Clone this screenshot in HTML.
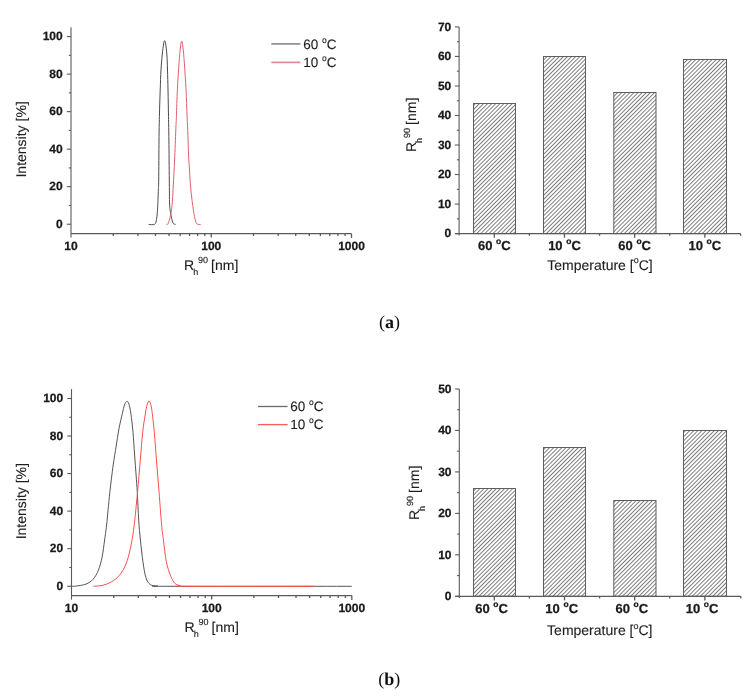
<!DOCTYPE html>
<html><head><meta charset="utf-8"><title>Figure</title>
<style>
html,body{margin:0;padding:0;background:#fff;width:754px;height:699px;overflow:hidden}
svg{display:block;text-rendering:geometricPrecision}
text{font-family:"Liberation Sans",Arial,sans-serif}
.ax{stroke:#5a5a5a;stroke-width:1.1}
.xa{stroke:#5a5a5a;stroke-width:1.3}
.tk{font-size:12px;font-weight:bold;fill:#1a1a1a;stroke:#1a1a1a;stroke-width:0.25px}
.bl{font-size:13px;font-weight:bold;fill:#1a1a1a;stroke:#1a1a1a;stroke-width:0.25px}
.tt{font-size:14px;fill:#1e1e1e;stroke:#1e1e1e;stroke-width:0.12px}
.lg{font-size:13.5px;fill:#1e1e1e;stroke:#1e1e1e;stroke-width:0.12px}
.sm{font-size:9px}
.dg{font-size:8.5px}
.dg2{font-size:9px}
.cv{fill:none;stroke-width:1}
.bar{fill:url(#hatch);stroke:#5e5e5e;stroke-width:1}
.cap{font-family:"Liberation Serif","Times New Roman",serif;font-size:18px;fill:#111}
</style>
</head><body>
<svg width="754" height="699" viewBox="0 0 754 699">
<defs><pattern id="hatch" patternUnits="userSpaceOnUse" width="2.9" height="20" patternTransform="rotate(45)"><rect x="0" y="0" width="0.75" height="20" fill="#555555"/></pattern></defs>
<rect width="754" height="699" fill="#ffffff"/>
<line class="ax" x1="71.00" y1="27.20" x2="71.00" y2="237.60"/>
<line class="xa" x1="71.00" y1="233.60" x2="351.50" y2="233.60"/>
<line class="xa" x1="351.50" y1="233.60" x2="351.50" y2="237.90"/>
<line class="xa" x1="211.25" y1="233.60" x2="211.25" y2="237.60"/>
<line class="xa" x1="113.22" y1="233.60" x2="113.22" y2="236.00" stroke-width="1.00"/>
<line class="xa" x1="137.92" y1="233.60" x2="137.92" y2="236.00" stroke-width="1.00"/>
<line class="xa" x1="155.44" y1="233.60" x2="155.44" y2="236.00" stroke-width="1.00"/>
<line class="xa" x1="169.03" y1="233.60" x2="169.03" y2="236.00" stroke-width="1.00"/>
<line class="xa" x1="180.14" y1="233.60" x2="180.14" y2="236.00" stroke-width="1.00"/>
<line class="xa" x1="189.53" y1="233.60" x2="189.53" y2="236.00" stroke-width="1.00"/>
<line class="xa" x1="197.66" y1="233.60" x2="197.66" y2="236.00" stroke-width="1.00"/>
<line class="xa" x1="204.83" y1="233.60" x2="204.83" y2="236.00" stroke-width="1.00"/>
<line class="xa" x1="253.47" y1="233.60" x2="253.47" y2="236.00" stroke-width="1.00"/>
<line class="xa" x1="278.17" y1="233.60" x2="278.17" y2="236.00" stroke-width="1.00"/>
<line class="xa" x1="295.69" y1="233.60" x2="295.69" y2="236.00" stroke-width="1.00"/>
<line class="xa" x1="309.28" y1="233.60" x2="309.28" y2="236.00" stroke-width="1.00"/>
<line class="xa" x1="320.39" y1="233.60" x2="320.39" y2="236.00" stroke-width="1.00"/>
<line class="xa" x1="329.78" y1="233.60" x2="329.78" y2="236.00" stroke-width="1.00"/>
<line class="xa" x1="337.91" y1="233.60" x2="337.91" y2="236.00" stroke-width="1.00"/>
<line class="xa" x1="345.08" y1="233.60" x2="345.08" y2="236.00" stroke-width="1.00"/>
<line class="ax" x1="66.80" y1="224.22" x2="71.00" y2="224.22"/>
<text class="tk" x="62.70" y="227.92" text-anchor="end">0</text>
<line class="ax" x1="68.80" y1="205.45" x2="71.00" y2="205.45" stroke-width="1.00"/>
<line class="ax" x1="66.80" y1="186.69" x2="71.00" y2="186.69"/>
<text class="tk" x="62.70" y="190.39" text-anchor="end">20</text>
<line class="ax" x1="68.80" y1="167.93" x2="71.00" y2="167.93" stroke-width="1.00"/>
<line class="ax" x1="66.80" y1="149.16" x2="71.00" y2="149.16"/>
<text class="tk" x="62.70" y="152.86" text-anchor="end">40</text>
<line class="ax" x1="68.80" y1="130.40" x2="71.00" y2="130.40" stroke-width="1.00"/>
<line class="ax" x1="66.80" y1="111.64" x2="71.00" y2="111.64"/>
<text class="tk" x="62.70" y="115.34" text-anchor="end">60</text>
<line class="ax" x1="68.80" y1="92.87" x2="71.00" y2="92.87" stroke-width="1.00"/>
<line class="ax" x1="66.80" y1="74.11" x2="71.00" y2="74.11"/>
<text class="tk" x="62.70" y="77.81" text-anchor="end">80</text>
<line class="ax" x1="68.80" y1="55.35" x2="71.00" y2="55.35" stroke-width="1.00"/>
<line class="ax" x1="66.80" y1="36.58" x2="71.00" y2="36.58"/>
<text class="tk" x="62.70" y="40.28" text-anchor="end">100</text>
<text class="tk" x="71.00" y="250.00" text-anchor="middle">10</text>
<text class="tk" x="211.25" y="250.00" text-anchor="middle">100</text>
<text class="tk" x="351.50" y="250.00" text-anchor="middle">1000</text>
<text class="tt" transform="translate(26.30,139.40) rotate(-90)" text-anchor="middle">Intensity [%]</text>
<text class="tt" x="184.00" y="269.70">R<tspan class="sm" dx="-1" dy="5.5">h</tspan><tspan class="sm" dx="-0.2" dy="-11.8">90</tspan><tspan dx="-0.8" dy="6.3"> [nm]</tspan></text>
<path class="cv" d="M148.50 224.40 C149.53 224.38 153.37 225.12 154.70 224.30 C156.03 223.48 156.07 221.43 156.50 219.50 C156.93 217.57 157.08 215.23 157.30 212.70 C157.52 210.17 157.63 207.85 157.80 204.30 C157.97 200.75 158.15 195.45 158.30 191.40 C158.45 187.35 158.58 188.57 158.70 180.00 C158.82 171.43 158.88 150.58 159.00 140.00 C159.12 129.42 159.20 124.83 159.40 116.50 C159.60 108.17 159.93 97.75 160.20 90.00 C160.47 82.25 160.67 75.83 161.00 70.00 C161.33 64.17 161.77 59.33 162.20 55.00 C162.63 50.67 163.20 46.38 163.60 44.00 C164.00 41.62 164.25 40.70 164.60 40.70 C164.95 40.70 165.32 41.62 165.70 44.00 C166.08 46.38 166.60 50.67 166.90 55.00 C167.20 59.33 167.32 64.17 167.50 70.00 C167.68 75.83 167.83 82.25 168.00 90.00 C168.17 97.75 168.35 108.17 168.50 116.50 C168.65 124.83 168.77 129.42 168.90 140.00 C169.03 150.58 169.18 169.33 169.30 180.00 C169.42 190.67 169.38 198.55 169.60 204.00 C169.82 209.45 170.20 210.07 170.60 212.70 C171.00 215.33 171.53 217.98 172.00 219.80 C172.47 221.62 172.80 222.83 173.40 223.60 C174.00 224.37 175.23 224.27 175.60 224.40" stroke="#4a4a4a"/>
<path class="cv" d="M166.20 224.40 C166.53 224.27 167.55 224.80 168.20 223.60 C168.85 222.40 169.57 219.33 170.10 217.20 C170.63 215.07 171.02 213.48 171.40 210.80 C171.78 208.12 172.08 205.40 172.40 201.10 C172.72 196.80 172.93 191.85 173.30 185.00 C173.67 178.15 174.18 169.17 174.60 160.00 C175.02 150.83 175.50 137.25 175.80 130.00 C176.10 122.75 176.13 123.28 176.40 116.50 C176.67 109.72 176.95 98.35 177.40 89.30 C177.85 80.25 178.58 69.25 179.10 62.20 C179.62 55.15 180.07 50.52 180.50 47.00 C180.93 43.48 181.30 41.10 181.70 41.10 C182.10 41.10 182.47 43.48 182.90 47.00 C183.33 50.52 183.78 55.15 184.30 62.20 C184.82 69.25 185.53 80.25 186.00 89.30 C186.47 98.35 186.78 108.88 187.10 116.50 C187.42 124.12 187.65 128.58 187.90 135.00 C188.15 141.42 188.33 149.17 188.60 155.00 C188.87 160.83 189.20 165.12 189.50 170.00 C189.80 174.88 189.95 179.05 190.40 184.30 C190.85 189.55 191.52 196.15 192.20 201.50 C192.88 206.85 193.75 212.72 194.50 216.40 C195.25 220.08 195.67 222.27 196.70 223.60 C197.73 224.93 200.03 224.27 200.70 224.40" stroke="#e0606e"/>
<line x1="271.30" y1="43.90" x2="300.40" y2="43.90" stroke="#8f8f8f" stroke-width="1.70"/>
<line x1="271.30" y1="62.40" x2="300.40" y2="62.40" stroke="#e08a94" stroke-width="1.70"/>
<text class="lg" x="303.30" y="48.70">60 <tspan class="dg" dy="-6">o</tspan><tspan dy="6">C</tspan></text>
<text class="lg" x="303.30" y="66.60">10 <tspan class="dg" dy="-6">o</tspan><tspan dy="6">C</tspan></text>
<line class="ax" x1="71.50" y1="389.10" x2="71.50" y2="599.60"/>
<line class="xa" x1="71.50" y1="595.60" x2="351.80" y2="595.60"/>
<line class="xa" x1="351.80" y1="595.60" x2="351.80" y2="599.90"/>
<line class="xa" x1="211.65" y1="595.60" x2="211.65" y2="599.60"/>
<line class="xa" x1="113.69" y1="595.60" x2="113.69" y2="598.00" stroke-width="1.00"/>
<line class="xa" x1="138.37" y1="595.60" x2="138.37" y2="598.00" stroke-width="1.00"/>
<line class="xa" x1="155.88" y1="595.60" x2="155.88" y2="598.00" stroke-width="1.00"/>
<line class="xa" x1="169.46" y1="595.60" x2="169.46" y2="598.00" stroke-width="1.00"/>
<line class="xa" x1="180.56" y1="595.60" x2="180.56" y2="598.00" stroke-width="1.00"/>
<line class="xa" x1="189.94" y1="595.60" x2="189.94" y2="598.00" stroke-width="1.00"/>
<line class="xa" x1="198.07" y1="595.60" x2="198.07" y2="598.00" stroke-width="1.00"/>
<line class="xa" x1="205.24" y1="595.60" x2="205.24" y2="598.00" stroke-width="1.00"/>
<line class="xa" x1="253.84" y1="595.60" x2="253.84" y2="598.00" stroke-width="1.00"/>
<line class="xa" x1="278.52" y1="595.60" x2="278.52" y2="598.00" stroke-width="1.00"/>
<line class="xa" x1="296.03" y1="595.60" x2="296.03" y2="598.00" stroke-width="1.00"/>
<line class="xa" x1="309.61" y1="595.60" x2="309.61" y2="598.00" stroke-width="1.00"/>
<line class="xa" x1="320.71" y1="595.60" x2="320.71" y2="598.00" stroke-width="1.00"/>
<line class="xa" x1="330.09" y1="595.60" x2="330.09" y2="598.00" stroke-width="1.00"/>
<line class="xa" x1="338.22" y1="595.60" x2="338.22" y2="598.00" stroke-width="1.00"/>
<line class="xa" x1="345.39" y1="595.60" x2="345.39" y2="598.00" stroke-width="1.00"/>
<line class="ax" x1="67.30" y1="586.21" x2="71.50" y2="586.21"/>
<text class="tk" x="63.20" y="589.91" text-anchor="end">0</text>
<line class="ax" x1="69.30" y1="567.44" x2="71.50" y2="567.44" stroke-width="1.00"/>
<line class="ax" x1="67.30" y1="548.67" x2="71.50" y2="548.67"/>
<text class="tk" x="63.20" y="552.37" text-anchor="end">20</text>
<line class="ax" x1="69.30" y1="529.90" x2="71.50" y2="529.90" stroke-width="1.00"/>
<line class="ax" x1="67.30" y1="511.12" x2="71.50" y2="511.12"/>
<text class="tk" x="63.20" y="514.82" text-anchor="end">40</text>
<line class="ax" x1="69.30" y1="492.35" x2="71.50" y2="492.35" stroke-width="1.00"/>
<line class="ax" x1="67.30" y1="473.58" x2="71.50" y2="473.58"/>
<text class="tk" x="63.20" y="477.28" text-anchor="end">60</text>
<line class="ax" x1="69.30" y1="454.80" x2="71.50" y2="454.80" stroke-width="1.00"/>
<line class="ax" x1="67.30" y1="436.03" x2="71.50" y2="436.03"/>
<text class="tk" x="63.20" y="439.73" text-anchor="end">80</text>
<line class="ax" x1="69.30" y1="417.26" x2="71.50" y2="417.26" stroke-width="1.00"/>
<line class="ax" x1="67.30" y1="398.49" x2="71.50" y2="398.49"/>
<text class="tk" x="63.20" y="402.19" text-anchor="end">100</text>
<text class="tk" x="71.50" y="612.00" text-anchor="middle">10</text>
<text class="tk" x="211.65" y="612.00" text-anchor="middle">100</text>
<text class="tk" x="351.80" y="612.00" text-anchor="middle">1000</text>
<text class="tt" transform="translate(26.30,501.20) rotate(-90)" text-anchor="middle">Intensity [%]</text>
<text class="tt" x="184.50" y="631.60">R<tspan class="sm" dx="-1" dy="5.5">h</tspan><tspan class="sm" dx="-0.2" dy="-11.8">90</tspan><tspan dx="-0.8" dy="6.3"> [nm]</tspan></text>
<path class="cv" d="M71.50 586.30 C72.22 586.27 73.38 586.47 75.80 586.10 C78.22 585.73 83.08 585.28 86.00 584.10 C88.92 582.92 91.23 581.32 93.30 579.00 C95.37 576.68 96.93 573.85 98.40 570.20 C99.87 566.55 101.07 562.13 102.10 557.10 C103.13 552.07 103.85 545.35 104.60 540.00 C105.35 534.65 105.73 532.90 106.60 525.00 C107.47 517.10 108.70 502.60 109.80 492.60 C110.90 482.60 112.13 472.77 113.20 465.00 C114.27 457.23 115.25 452.00 116.20 446.00 C117.15 440.00 117.88 434.40 118.90 429.00 C119.92 423.60 121.37 417.60 122.30 413.60 C123.23 409.60 123.75 407.05 124.50 405.00 C125.25 402.95 126.07 401.47 126.80 401.30 C127.53 401.13 128.22 401.95 128.90 404.00 C129.58 406.05 130.22 408.90 130.90 413.60 C131.58 418.30 132.38 425.30 133.00 432.20 C133.62 439.10 134.08 447.87 134.60 455.00 C135.12 462.13 135.65 468.73 136.10 475.00 C136.55 481.27 136.87 485.10 137.30 492.60 C137.73 500.10 138.18 512.10 138.70 520.00 C139.22 527.90 139.70 533.08 140.40 540.00 C141.10 546.92 141.98 555.25 142.90 561.50 C143.82 567.75 144.68 573.67 145.90 577.50 C147.12 581.33 148.27 583.07 150.20 584.50 C152.13 585.93 154.20 585.80 157.50 586.10 C160.80 586.40 137.62 586.27 170.00 586.30 C202.38 586.33 321.50 586.30 351.80 586.30" stroke="#555555"/>
<path class="cv" d="M93.30 586.30 C95.02 586.10 100.18 586.08 103.60 585.10 C107.02 584.12 110.88 582.40 113.80 580.40 C116.72 578.40 118.92 576.25 121.10 573.10 C123.28 569.95 125.20 566.35 126.90 561.50 C128.60 556.65 130.08 550.08 131.30 544.00 C132.52 537.92 133.17 533.57 134.20 525.00 C135.23 516.43 136.48 503.43 137.50 492.60 C138.52 481.77 139.43 470.07 140.30 460.00 C141.17 449.93 141.87 439.87 142.70 432.20 C143.53 424.53 144.55 418.62 145.30 414.00 C146.05 409.38 146.58 406.67 147.20 404.50 C147.82 402.33 148.40 401.00 149.00 401.00 C149.60 401.00 150.25 402.40 150.80 404.50 C151.35 406.60 151.72 408.98 152.30 413.60 C152.88 418.22 153.62 424.62 154.30 432.20 C154.98 439.78 155.60 449.03 156.40 459.10 C157.20 469.17 158.23 481.62 159.10 492.60 C159.97 503.58 160.88 517.17 161.60 525.00 C162.32 532.83 162.62 533.52 163.40 539.60 C164.18 545.68 165.08 555.42 166.30 561.50 C167.52 567.58 169.25 572.45 170.70 576.10 C172.15 579.75 173.45 581.82 175.00 583.40 C176.55 584.98 177.50 585.12 180.00 585.60 C182.50 586.08 167.60 586.18 190.00 586.30 C212.40 586.42 293.67 586.30 314.40 586.30" stroke="#ff4d4d"/>
<line x1="257.90" y1="406.50" x2="287.60" y2="406.50" stroke="#6a6a6a" stroke-width="1.30"/>
<line x1="257.90" y1="424.60" x2="287.60" y2="424.60" stroke="#ff5a5a" stroke-width="1.30"/>
<text class="lg" x="290.20" y="410.70">60 <tspan class="dg" dy="-6">o</tspan><tspan dy="6">C</tspan></text>
<text class="lg" x="290.20" y="428.90">10 <tspan class="dg" dy="-6">o</tspan><tspan dy="6">C</tspan></text>
<rect class="bar" x="473.50" y="103.50" width="42.00" height="130.10"/>
<rect class="bar" x="543.50" y="56.50" width="42.00" height="177.10"/>
<rect class="bar" x="613.80" y="92.50" width="42.20" height="141.10"/>
<rect class="bar" x="683.50" y="59.50" width="43.00" height="174.10"/>
<line class="ax" x1="459.10" y1="26.90" x2="459.10" y2="235.40"/>
<line class="xa" x1="455.10" y1="233.60" x2="740.60" y2="233.60"/>
<line class="xa" x1="740.60" y1="233.60" x2="740.60" y2="235.80" stroke-width="1.00"/>
<line class="xa" x1="494.30" y1="233.60" x2="494.30" y2="237.70" stroke-width="1.00"/>
<line class="xa" x1="564.48" y1="233.60" x2="564.48" y2="237.70" stroke-width="1.00"/>
<line class="xa" x1="634.66" y1="233.60" x2="634.66" y2="237.70" stroke-width="1.00"/>
<line class="xa" x1="704.84" y1="233.60" x2="704.84" y2="237.70" stroke-width="1.00"/>
<line class="xa" x1="529.39" y1="233.60" x2="529.39" y2="235.80" stroke-width="1.00"/>
<line class="xa" x1="599.57" y1="233.60" x2="599.57" y2="235.80" stroke-width="1.00"/>
<line class="xa" x1="669.75" y1="233.60" x2="669.75" y2="235.80" stroke-width="1.00"/>
<line class="ax" x1="454.90" y1="233.60" x2="459.10" y2="233.60"/>
<text class="tk" x="451.30" y="237.30" text-anchor="end">0</text>
<line class="ax" x1="456.90" y1="218.84" x2="459.10" y2="218.84" stroke-width="1.00"/>
<line class="ax" x1="454.90" y1="204.07" x2="459.10" y2="204.07"/>
<text class="tk" x="451.30" y="207.77" text-anchor="end">10</text>
<line class="ax" x1="456.90" y1="189.31" x2="459.10" y2="189.31" stroke-width="1.00"/>
<line class="ax" x1="454.90" y1="174.54" x2="459.10" y2="174.54"/>
<text class="tk" x="451.30" y="178.24" text-anchor="end">20</text>
<line class="ax" x1="456.90" y1="159.78" x2="459.10" y2="159.78" stroke-width="1.00"/>
<line class="ax" x1="454.90" y1="145.01" x2="459.10" y2="145.01"/>
<text class="tk" x="451.30" y="148.71" text-anchor="end">30</text>
<line class="ax" x1="456.90" y1="130.25" x2="459.10" y2="130.25" stroke-width="1.00"/>
<line class="ax" x1="454.90" y1="115.49" x2="459.10" y2="115.49"/>
<text class="tk" x="451.30" y="119.19" text-anchor="end">40</text>
<line class="ax" x1="456.90" y1="100.72" x2="459.10" y2="100.72" stroke-width="1.00"/>
<line class="ax" x1="454.90" y1="85.96" x2="459.10" y2="85.96"/>
<text class="tk" x="451.30" y="89.66" text-anchor="end">50</text>
<line class="ax" x1="456.90" y1="71.19" x2="459.10" y2="71.19" stroke-width="1.00"/>
<line class="ax" x1="454.90" y1="56.43" x2="459.10" y2="56.43"/>
<text class="tk" x="451.30" y="60.13" text-anchor="end">60</text>
<line class="ax" x1="456.90" y1="41.66" x2="459.10" y2="41.66" stroke-width="1.00"/>
<line class="ax" x1="454.90" y1="26.90" x2="459.10" y2="26.90"/>
<text class="tk" x="451.30" y="30.60" text-anchor="end">70</text>
<text class="bl" x="494.30" y="249.80" text-anchor="middle">60 <tspan class="dg" dy="-5.5">o</tspan><tspan dy="5.5">C</tspan></text>
<text class="bl" x="564.48" y="249.80" text-anchor="middle">10 <tspan class="dg" dy="-5.5">o</tspan><tspan dy="5.5">C</tspan></text>
<text class="bl" x="634.66" y="249.80" text-anchor="middle">60 <tspan class="dg" dy="-5.5">o</tspan><tspan dy="5.5">C</tspan></text>
<text class="bl" x="704.84" y="249.80" text-anchor="middle">10 <tspan class="dg" dy="-5.5">o</tspan><tspan dy="5.5">C</tspan></text>
<text class="tt" x="600.00" y="269.50" text-anchor="middle">Temperature [<tspan class="dg2" dy="-6.3">o</tspan><tspan dy="6.3">C]</tspan></text>
<text class="tt" transform="translate(416.00,152.00) rotate(-90)">R<tspan class="sm" dx="-1" dy="5.5">h</tspan><tspan class="sm" dx="-0.2" dy="-11.8">90</tspan><tspan dx="-0.8" dy="6.3"> [nm]</tspan></text>
<rect class="bar" x="473.50" y="488.50" width="42.00" height="107.80"/>
<rect class="bar" x="543.50" y="447.50" width="42.00" height="148.80"/>
<rect class="bar" x="613.80" y="500.50" width="42.20" height="95.80"/>
<rect class="bar" x="683.50" y="430.50" width="43.00" height="165.80"/>
<line class="ax" x1="459.30" y1="389.00" x2="459.30" y2="598.10"/>
<line class="xa" x1="455.30" y1="596.30" x2="740.80" y2="596.30"/>
<line class="xa" x1="740.80" y1="596.30" x2="740.80" y2="598.50" stroke-width="1.00"/>
<line class="xa" x1="494.30" y1="596.30" x2="494.30" y2="600.40" stroke-width="1.00"/>
<line class="xa" x1="564.48" y1="596.30" x2="564.48" y2="600.40" stroke-width="1.00"/>
<line class="xa" x1="634.66" y1="596.30" x2="634.66" y2="600.40" stroke-width="1.00"/>
<line class="xa" x1="704.84" y1="596.30" x2="704.84" y2="600.40" stroke-width="1.00"/>
<line class="xa" x1="529.39" y1="596.30" x2="529.39" y2="598.50" stroke-width="1.00"/>
<line class="xa" x1="599.57" y1="596.30" x2="599.57" y2="598.50" stroke-width="1.00"/>
<line class="xa" x1="669.75" y1="596.30" x2="669.75" y2="598.50" stroke-width="1.00"/>
<line class="ax" x1="455.10" y1="596.30" x2="459.30" y2="596.30"/>
<text class="tk" x="451.50" y="600.00" text-anchor="end">0</text>
<line class="ax" x1="457.10" y1="575.57" x2="459.30" y2="575.57" stroke-width="1.00"/>
<line class="ax" x1="455.10" y1="554.84" x2="459.30" y2="554.84"/>
<text class="tk" x="451.50" y="558.54" text-anchor="end">10</text>
<line class="ax" x1="457.10" y1="534.11" x2="459.30" y2="534.11" stroke-width="1.00"/>
<line class="ax" x1="455.10" y1="513.38" x2="459.30" y2="513.38"/>
<text class="tk" x="451.50" y="517.08" text-anchor="end">20</text>
<line class="ax" x1="457.10" y1="492.65" x2="459.30" y2="492.65" stroke-width="1.00"/>
<line class="ax" x1="455.10" y1="471.92" x2="459.30" y2="471.92"/>
<text class="tk" x="451.50" y="475.62" text-anchor="end">30</text>
<line class="ax" x1="457.10" y1="451.19" x2="459.30" y2="451.19" stroke-width="1.00"/>
<line class="ax" x1="455.10" y1="430.46" x2="459.30" y2="430.46"/>
<text class="tk" x="451.50" y="434.16" text-anchor="end">40</text>
<line class="ax" x1="457.10" y1="409.73" x2="459.30" y2="409.73" stroke-width="1.00"/>
<line class="ax" x1="455.10" y1="389.00" x2="459.30" y2="389.00"/>
<text class="tk" x="451.50" y="392.70" text-anchor="end">50</text>
<text class="bl" x="491.50" y="612.50" text-anchor="middle">60 <tspan class="dg" dy="-5.5">o</tspan><tspan dy="5.5">C</tspan></text>
<text class="bl" x="561.68" y="612.50" text-anchor="middle">10 <tspan class="dg" dy="-5.5">o</tspan><tspan dy="5.5">C</tspan></text>
<text class="bl" x="631.86" y="612.50" text-anchor="middle">60 <tspan class="dg" dy="-5.5">o</tspan><tspan dy="5.5">C</tspan></text>
<text class="bl" x="702.04" y="612.50" text-anchor="middle">10 <tspan class="dg" dy="-5.5">o</tspan><tspan dy="5.5">C</tspan></text>
<text class="tt" x="599.80" y="635.40" text-anchor="middle">Temperature [<tspan class="dg2" dy="-6.3">o</tspan><tspan dy="6.3">C]</tspan></text>
<text class="tt" transform="translate(419.30,520.00) rotate(-90)">R<tspan class="sm" dx="-1" dy="5.5">h</tspan><tspan class="sm" dx="-0.2" dy="-11.8">90</tspan><tspan dx="-0.8" dy="6.3"> [nm]</tspan></text>
<text class="cap" x="389.5" y="328.3" text-anchor="middle">(<tspan font-weight="bold">a</tspan>)</text>
<text class="cap" x="389.2" y="685" text-anchor="middle">(<tspan font-weight="bold">b</tspan>)</text>
</svg>
</body></html>
